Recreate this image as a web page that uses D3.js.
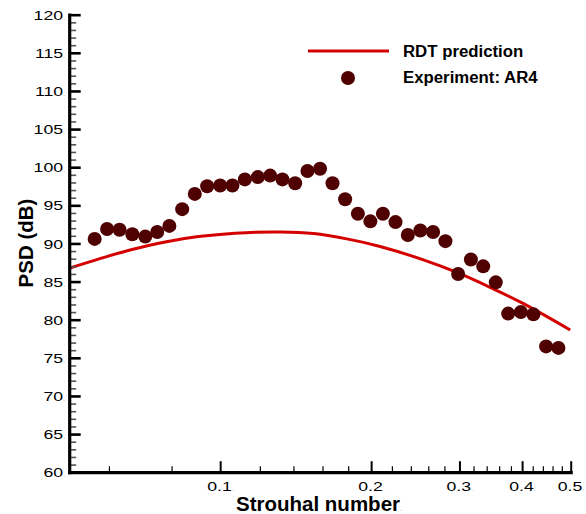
<!DOCTYPE html>
<html>
<head>
<meta charset="utf-8">
<script src="https://cdn.jsdelivr.net/npm/d3@7"></script>
<style>
  html, body { margin: 0; padding: 0; background: #fff; }
  svg { display: block; }
  text { font-family: "Liberation Sans", Arial, Helvetica, sans-serif; }
</style>
</head>
<body>
<svg id="chart" width="586" height="514"></svg>
<script>
// Experimental spectrum (1/12-octave bins) for the AR4 nozzle
const strouhal = [0.0562, 0.0595, 0.0630, 0.0668, 0.0709, 0.0749, 0.0792, 0.0840, 0.0890, 0.0942,
                  0.1000, 0.1058, 0.1120, 0.1189, 0.1258, 0.1331, 0.1411, 0.1493, 0.1582, 0.1675,
                  0.1775, 0.1882, 0.1993, 0.2111, 0.2237, 0.2367, 0.2507, 0.2658, 0.2813, 0.2982,
                  0.3162, 0.3346, 0.3545, 0.3752, 0.3977, 0.4213, 0.4466, 0.4726];
const psdExperiment = [90.6, 91.9, 91.8, 91.2, 90.9, 91.5, 92.3, 94.5, 96.5, 97.5,
                       97.6, 97.6, 98.4, 98.7, 98.9, 98.4, 97.9, 99.5, 99.8, 97.9,
                       95.8, 93.9, 92.9, 93.9, 92.8, 91.1, 91.7, 91.5, 90.3, 86.0,
                       87.9, 87.0, 84.9, 80.8, 81.0, 80.7, 76.5, 76.3];

// RDT model prediction
const strouhalPred = [0.0500, 0.0572, 0.0667, 0.0777, 0.0905, 0.1071, 0.1317, 0.1535,
                      0.1789, 0.2084, 0.2543, 0.2965, 0.3454, 0.4025, 0.4988];
const psdPred = [86.75, 87.95, 89.2, 90.2, 90.9, 91.35, 91.5, 91.3,
                 90.6, 89.6, 87.85, 86.2, 84.25, 82.1, 78.65];

// Axis ticks
const yMajorTicks = [60, 65, 70, 75, 80, 85, 90, 95, 100, 105, 110, 115, 120];
const yMinorTicks = d3.range(60, 121, 1).filter(v => v % 5 !== 0);
const xMajorTicks = [0.1, 0.2, 0.3, 0.4, 0.5];
const xMinorTicks = [0.06, 0.08, 0.12, 0.14, 0.16, 0.18, 0.22, 0.24, 0.26, 0.28,
                     0.32, 0.34, 0.36, 0.38, 0.42, 0.44, 0.46, 0.48];

const seriesNames = ["RDT prediction", "Experiment: AR4"];
const lineColor = "#d40000";
const dotColor = "#4f0000";

const svg = d3.select("#chart");
const plot = { left: 69.2, right: 570.7, top: 14.7, bottom: 472.2 };

const x = d3.scaleLog().domain([0.05, 0.5]).range([plot.left, plot.right]);
const y = d3.scaleLinear().domain([60, 120]).range([plot.bottom, plot.top]);

// Prediction curve
const line = d3.line()
  .x((d, i) => x(strouhalPred[i]))
  .y(d => y(d))
  .curve(d3.curveCatmullRom.alpha(0.5));

svg.append("path")
  .datum(psdPred)
  .attr("d", line)
  .attr("fill", "none")
  .attr("stroke", lineColor)
  .attr("stroke-width", 3);

// Experiment points
svg.append("g")
  .selectAll("circle")
  .data(psdExperiment)
  .join("circle")
  .attr("cx", (d, i) => x(strouhal[i]))
  .attr("cy", d => y(d))
  .attr("r", 7)
  .attr("fill", dotColor);

// Minor ticks
svg.append("g")
  .attr("transform", `translate(${plot.left},0)`)
  .call(d3.axisLeft(y).tickValues(yMinorTicks).tickSizeInner(-7).tickSizeOuter(0).tickFormat(""))
  .call(g => g.select(".domain").remove())
  .call(g => g.selectAll("line").attr("stroke", "#555").attr("stroke-width", 1.6));

svg.append("g")
  .attr("transform", `translate(0,${plot.bottom})`)
  .call(d3.axisBottom(x).tickValues(xMinorTicks).tickSizeInner(-6).tickSizeOuter(0).tickFormat(""))
  .call(g => g.select(".domain").remove())
  .call(g => g.selectAll("line").attr("stroke", "#000").attr("stroke-width", 1.2));

// Major axes
const labelStretch = 1.38;

const yAxis = svg.append("g")
  .attr("transform", `translate(${plot.left},0)`)
  .call(d3.axisLeft(y).tickValues(yMajorTicks).tickSizeInner(-11.5).tickSizeOuter(0)
        .tickPadding(2.8).tickFormat(d3.format("d")));
yAxis.select(".domain").attr("stroke-width", 3.2).attr("stroke-linecap", "square");
yAxis.selectAll(".tick line").attr("stroke-width", 2.6);
yAxis.selectAll(".tick text")
  .attr("fill", "#000")
  .attr("font-size", 12.8)
  .attr("dy", "0.36em")
  .attr("transform", `scale(${labelStretch},1)`)
  .append("tspan").text(".").attr("font-size", 6).attr("fill", "#999");

const xAxis = svg.append("g")
  .attr("transform", `translate(0,${plot.bottom})`)
  .call(d3.axisBottom(x).tickValues(xMajorTicks).tickSizeInner(-11).tickSizeOuter(0)
        .tickFormat(d3.format(".1f")));
xAxis.select(".domain").attr("stroke-width", 3.2).attr("stroke-linecap", "square");
xAxis.selectAll(".tick line").attr("stroke-width", 2);
xAxis.selectAll(".tick text")
  .attr("fill", "#000")
  .attr("font-size", 12.8)
  .attr("y", 0)
  .attr("dy", 0)
  .attr("transform", `translate(0,18.6) scale(${labelStretch},1)`)
  .append("tspan").text(".").attr("font-size", 6).attr("fill", "#999");

// Axis titles
const xTitle = svg.append("text")
  .attr("x", 319)
  .attr("y", 511)
  .attr("text-anchor", "middle")
  .attr("font-size", 20.5)
  .attr("font-weight", "bold")
  .text("Strouhal number");
xTitle.append("tspan").text(".").attr("font-size", 7).attr("fill", "#999").attr("font-weight", "normal");

svg.append("text")
  .attr("transform", "translate(32.5,243) rotate(-90)")
  .attr("text-anchor", "middle")
  .attr("font-size", 20.5)
  .attr("font-weight", "bold")
  .text("PSD (dB)");

// Legend
const legend = svg.append("g");
legend.append("line")
  .attr("x1", 308).attr("x2", 389)
  .attr("y1", 51).attr("y2", 51)
  .attr("stroke", lineColor).attr("stroke-width", 3);
legend.append("circle")
  .attr("cx", 348).attr("cy", 78).attr("r", 7)
  .attr("fill", dotColor);
legend.selectAll("text.legend-label")
  .data(seriesNames)
  .join("text")
  .attr("class", "legend-label")
  .attr("x", 403)
  .attr("y", (d, i) => 56.8 + i * 26.5)
  .attr("font-size", 16.8)
  .attr("font-weight", "bold")
  .text(d => d);
</script>
</body>
</html>
